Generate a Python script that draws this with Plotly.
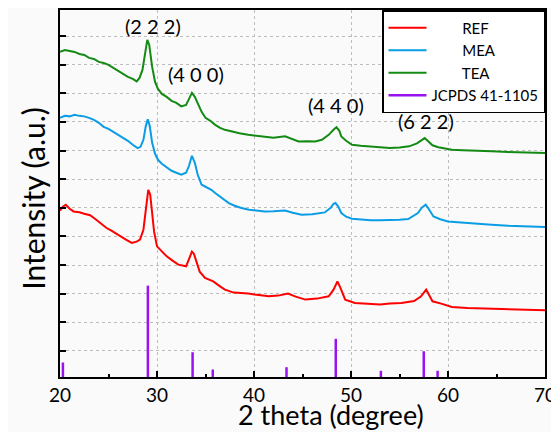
import plotly.graph_objects as go

# 2-theta positions and intensities (arbitrary units)
tea_x = [20.0, 20.5, 21.0, 21.5, 22.0, 22.5, 23.0, 23.5, 24.0, 24.5, 25.0, 25.5, 26.0, 26.5, 27.0, 27.5, 27.9, 28.2, 28.5, 28.8,
         29.0, 29.2, 29.5, 29.8, 30.1, 30.5, 31.0, 31.5, 32.0, 32.5, 33.0, 33.3, 33.6, 33.9, 34.2, 34.6, 35.0, 35.5, 36.0, 36.5,
         37.0, 37.7, 38.5, 39.4, 40.2, 41.1, 42.0, 43.2, 44.0, 44.6, 45.5, 46.3, 47.0, 47.7, 48.2, 48.5, 48.8, 49.0, 49.5, 50.1,
         51.0, 52.0, 53.0, 54.0, 55.0, 56.0, 56.8, 57.3, 57.6, 57.9, 58.4, 59.0, 60.4, 61.5, 62.8, 64.5, 66.2, 68.0, 70.0]
tea_y = [328, 330, 329, 328, 326, 325, 322, 321, 318, 317, 315, 312, 309, 306, 303, 301, 298.5, 302, 310, 328,
         340, 335, 313, 298, 291, 286, 283, 279, 277, 273.5, 275, 281, 287, 283, 276, 268, 262, 259, 255, 252,
         250, 248.3, 246.5, 245, 244, 242.7, 242, 243.5, 240.5, 238.3, 238.5, 238.3, 240, 245, 250, 252.7, 249, 243.3, 239, 235,
         234, 233, 232.5, 231.7, 232.2, 233.5, 236.5, 240, 241.7, 239, 234.5, 232.5, 230, 229.5, 229.3, 228.5, 227.7, 227.2, 226.7]

mea_x = [20.0, 20.5, 21.0, 21.5, 22.0, 22.5, 23.0, 23.5, 24.0, 24.5, 25.0, 25.5, 26.0, 26.5, 27.0, 27.5, 28.0, 28.3, 28.6, 28.85,
         29.05, 29.25, 29.5, 29.8, 30.1, 30.5, 31.0, 31.5, 32.0, 32.5, 33.0, 33.3, 33.6, 33.9, 34.2, 34.6, 35.0, 35.6, 36.0, 36.5,
         37.0, 37.4, 38.0, 38.7, 39.5, 40.3, 41.1, 42.0, 43.2, 44.0, 44.9, 46.0, 47.3, 47.9, 48.2, 48.4, 48.7, 49.0, 49.5, 50.1,
         51.0, 52.0, 53.0, 54.0, 55.0, 55.9, 56.5, 56.9, 57.3, 57.7, 58.0, 58.5, 59.2, 60.0, 61.0, 62.8, 64.5, 66.2, 68.0, 70.0]
mea_y = [262, 264, 263.5, 265, 264, 263.5, 262, 260, 257, 253, 251, 248, 245, 241.7, 239, 235, 231.7, 233, 240, 254,
         260.5, 254, 237, 226, 220, 216, 212.5, 209, 207, 205, 207, 214, 224, 217, 205, 195, 193, 190, 186.7, 183,
         179, 176.7, 174, 171.7, 170, 169, 168.3, 168.5, 169.3, 167, 165, 165.5, 167.3, 172, 176, 176.7, 173, 166.7, 163, 161,
         160, 159.5, 159.5, 159.5, 160, 160.7, 164, 166.7, 172, 175, 171, 163.3, 160.5, 158.3, 157.5, 156, 155, 154, 153.5, 152.7]

ref_x = [20.0, 20.3, 20.6, 21.0, 21.4, 22.0, 22.5, 23.1, 23.6, 24.2, 24.8, 25.3, 26.2, 26.8, 27.4, 27.9, 28.25, 28.6, 28.85, 29.1,
         29.3, 29.5, 29.7, 30.0, 30.5, 31.0, 31.6, 32.2, 33.0, 33.3, 33.6, 33.8, 34.1, 34.4, 34.95, 35.8, 36.5, 37.0, 37.9, 39.4,
         40.5, 41.5, 42.5, 43.5, 44.3, 45.3, 46.5, 47.7, 48.2, 48.6, 48.9, 49.4, 50.4, 51.5, 53.0, 54.0, 55.2, 56.5, 57.2, 57.75,
         58.1, 58.4, 59.3, 60.4, 62.0, 64.5, 67.0, 70.0]
ref_y = [169, 173, 175, 171, 168.3, 167.5, 166, 164.5, 161, 156, 151.7, 149, 143.3, 140, 136.7, 138, 140, 150, 170, 190,
         185, 165, 148, 133.3, 128, 123.3, 119, 115, 113.3, 120, 128, 126, 116, 108, 101.7, 98.3, 93.3, 90, 87, 86,
         84.5, 83.3, 84, 86, 83, 80, 81, 83.3, 90, 98.3, 92, 80, 76.7, 76, 75, 76, 76.7, 78.5, 83, 90,
         83, 78.3, 76, 72.7, 71.5, 70.7, 70, 69.3]

jcpds_pos = [20.3, 29.06, 33.67, 35.75, 43.35, 48.43, 53.08, 57.5, 58.93]
jcpds_int = [17, 94, 27.3, 10, 12.3, 40.7, 8.7, 28.3, 8.7]

peak_labels = ["(2 2 2)", "(4 0 0)", "(4 4 0)", "(6 2 2)"]
peak_label_x = [29.6, 34.0, 48.5, 57.7]
peak_label_y = [354, 306, 274.5, 259]

FONT = "Lato"

fig = go.Figure()
fig.add_trace(go.Scatter(x=ref_x, y=ref_y, mode="lines", name="\u00a0" * 8 + "REF",
                         line=dict(color="#ff0000", width=2)))
fig.add_trace(go.Scatter(x=mea_x, y=mea_y, mode="lines", name="\u00a0" * 8 + "MEA",
                         line=dict(color="#0a9de6", width=2)))
fig.add_trace(go.Scatter(x=tea_x, y=tea_y, mode="lines", name="\u00a0" * 8 + "TEA",
                         line=dict(color="#138a13", width=2)))

sx, sy = [], []
for p, h in zip(jcpds_pos, jcpds_int):
    sx += [p, p, None]
    sy += [0, h, None]
fig.add_trace(go.Scatter(x=sx, y=sy, mode="lines", name="JCPDS 41-1105",
                         line=dict(color="#9a12f0", width=2.5)))

for t, xx, yy in zip(peak_labels, peak_label_x, peak_label_y):
    fig.add_annotation(x=xx, y=yy, text=t, showarrow=False,
                       font=dict(family=FONT, size=20, color="black"))

# axis titles
fig.add_annotation(xref="paper", yref="paper", x=(331 - 60) / 485, y=-(415 - 377.5) / 367.5,
                   xanchor="center", yanchor="middle", showarrow=False,
                   text="2 theta (degree)", font=dict(family=FONT, size=27, color="black"))
fig.add_annotation(xref="paper", yref="paper", x=(33 - 60) / 485, y=(377.5 - 199) / 367.5,
                   xanchor="center", yanchor="middle", showarrow=False, textangle=-90,
                   text="Intensity (a.u.)", font=dict(family=FONT, size=30, color="black"))

fig.update_layout(
    width=551, height=424,
    margin=dict(l=52, r=14, t=2, b=54.5, autoexpand=False),
    paper_bgcolor="#fafafa", plot_bgcolor="#fafafa",
    font=dict(family=FONT, color="black"),
    showlegend=True,
    legend=dict(x=1, xanchor="right", y=1, yanchor="top",
                bgcolor="white", bordercolor="black", borderwidth=1.5,
                font=dict(family=FONT, size=15, color="black"),
                tracegroupgap=0, itemwidth=38),
)
fig.update_xaxes(range=[20, 70], dtick=10, tick0=20, automargin=False,
                 showline=True, linecolor="black", linewidth=2, mirror=True,
                 ticks="inside", ticklen=6, tickwidth=2, tickcolor="black",
                 minor=dict(dtick=5, ticks="inside", ticklen=3, tickcolor="black", showgrid=False),
                 showgrid=True, gridcolor="#bdbdbd", griddash="dot", gridwidth=1,
                 zeroline=False,
                 tickfont=dict(family=FONT, size=19, color="black"))
fig.update_yaxes(range=[2.5, 370], tick0=0.05, dtick=28.65, automargin=False,
                 showline=True, linecolor="black", linewidth=2, mirror=True,
                 ticks="inside", ticklen=6, tickwidth=2, tickcolor="black",
                 showticklabels=False,
                 showgrid=True, gridcolor="#bdbdbd", griddash="dot", gridwidth=1,
                 zeroline=False)

fig.write_html("out.html")
